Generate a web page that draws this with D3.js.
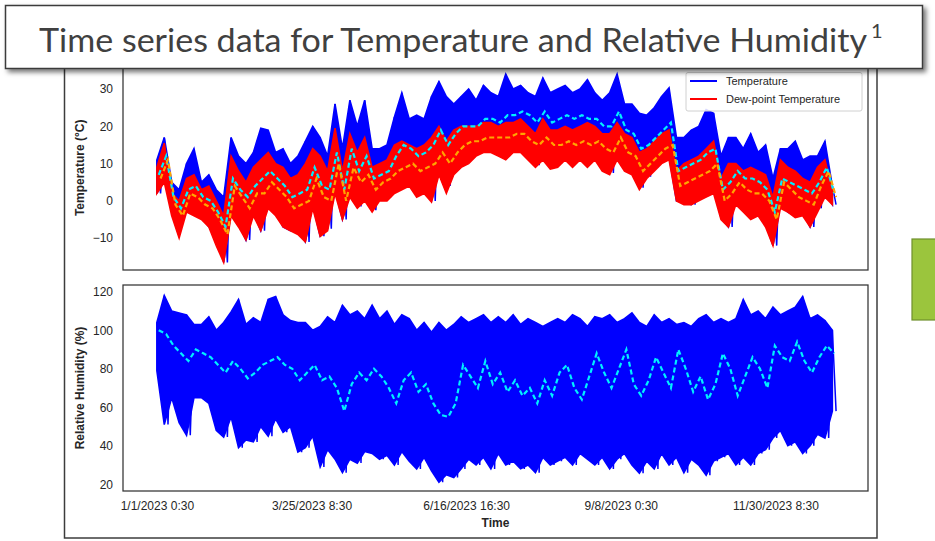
<!DOCTYPE html>
<html>
<head>
<meta charset="utf-8">
<script src="https://cdn.jsdelivr.net/npm/d3@7"></script>
<style>
  html, body { margin: 0; padding: 0; background: #fff; }
  svg { display: block; }
</style>
</head>
<body>
<svg id="chart" width="935" height="541"></svg>
<script>
// ---------------- DATA (one sample every 4 days from 1/1/2023 0:30) ----------------
const titleText = "Time series data for Temperature and Relative Humidity";
const titleSup = "1";
const seriesStart = "2023-01-01T00:30";
const seriesEnd = "2023-12-31T23:30";
const stepDays = 4;

// Temperature (°C): upper and lower swing of the hourly line, and its rolling mean
const tempMax = [11,17,5,3,10,14,5,7,3,1,17,12,10,13,19.5,19,13,14,10,12,16,20,17,12,26,14,27,20,27,14,14,15,22.5,29,22,23,22,28,32,28,26,28,30,27,31,29,28,34,30,31,29,28,33,29,30,31,29,30,32.5,29,27,29,34,26,26,23.5,23,25,28,30.3,17,17,19,20,24.5,23.5,12,17,17,14,18,13,15,6,14,14,16,11,12,12,16,4];
const tempMin = [2,6,-3,-6,-2,-2,-4,-7,-8,-16.5,-3,-6,-10.5,-3,-8,-1,-3,-7,-8,-8,-11,-1,-9.5,-7.5,3,-5,2,-1.5,2,-2.5,1,1,3,4,5,2,3,0,8,4,8,10,11,13,14,15,13,12,14,14,12,9.6,12,9,10,12,10,12,10,12,9,7.5,12,9,8,3.5,6.5,9,11,12,0,-0.5,-1,1,2,3,-4.5,-7,0,-2,-4.5,-3,-6,-12,-1,-3,-4,-3,-7,-2,2,-1];
const tempMean = [7,12,1,-2,3,4,1,0,-3,-7,6,3,1,4,6,8,6,4,1,2,3,9,4,3,13,3,14,8,12,6,7,8,12,15,14,12,13,15,19,15,18,20,20,20,22,22,21,23,23,24,23,21,24,21,22,23,22,23,22,22,20,20,24,19,18,14,15,17,19,21,8,9,10,11,13,14,3,5,8,6,6,5,3,-3,6,5,4,3,2,5,9,2];
// Dew-point temperature (°C)
const dewMax = [9,15.5,2,0,6,7,3,4,0,-4,12,8,5,9,11,13,10,9,6,7,10,14,12,8,19.5,8,18,13,17,9,10,11,15,16,15,14,15,17,20,16,19,20,20,20,21,21,20,21,21,22,20,18,22,19,19,20,19,20,21,20,18,18,21,18,17,13,14,16,18,19,8,10,11,12,14,16,6,10,10,8,9,8,7,1,11,9,8,6,5,9,11,3];
const dewMin = [2,5,-4,-10,-3,-4,-5,-7,-12,-16.5,-4,-7,-10.5,-4,-8,-2,-4,-7,-8,-9,-11,-2,-9.5,-8,2,-5,1,-2,0,-3,0,0,2,3,4,1,2,-0.3,7,2,7,9,10,12,13,13,12,11,13,13,11,9,11,8.5,9,11,9,11,9,11,8,7,11,8,7,3,6,8,10,11,0,-1,-1,0,1,2,-5,-7,-1,-3,-5,-4,-7,-12,-2,-3,-4.5,-4,-7,-3,1,-1];
const dewMean = [6,11,-1,-4,2,1,-1,-2,-5,-9,4,1,-2,2,2,5,3,1,-2,-1,0,6,1,0,10,0,9,5,7,3,5,6,8,9,10,8,9,10,13,10,13,15,16,16,17,17,17,17,18,18,16,15,17,15,15,16,15,16,15,16,14,13,17,13,12,8,10,12,14,15,4,5,6,7,8,10,0,2,5,3,2,2,0,-5,5,3,1,0,-1,4,8,1];
// Relative humidity (%)
const rhMax = [104,118,110,109,108,103,103,107,100,104,109.5,116,103,106.5,104,116,117.5,108,105,104,104,100,102,107,104,113,108,110,106,113,106,110,103,108,106,100,104,99,104,100,103,107,104,106,108,104,107,104,108,103,106,104,102,104,106,104,108,106,102,107,106,108,104,106,109,104,102,108,104,106,103,104,102,106,108,104,106,104,106,116,108,110,106,112,108,110,112,117.5,106,108,105,100];
const rhMin = [79,51,65,52,45.5,65,65,62,48,44.5,55,39,43,42,50,45,54,47,50,36.7,39,45,29,38,33,26,33,31,37,36,33,35,30,37,32,28,34,27,21,25,23.5,28,33,30,34,28,36,30,32,28,30,26,34,30,32,34,30,36,33,30,34,28,33,36,30,25.7,32,28,36,30,34,26,33,30,24.7,32,34,36,30,34,30,36,38,44,48,40,42,36,40,46,44,58];
const rhMean = [100,98,92,88,84,90,88,86,82,78,84,80,75,78,82,84,86,82,80,74,78,82,74,76,70,58,72,78,74,80,76,70,62,74,78,68,72,62,56,55,62,82,76,70,84,72,78,68,74,66,70,62,74,66,78,82,70,64,76,88,78,70,80,90,72,66,74,86,78,70,90,80,68,76,64,72,88,80,66,76,86,80,70,92,86,84,94,84,78,86,92,88];

// Axis ticks
const tempTicks = [-10, 0, 10, 20, 30];
const rhTicks = [20, 40, 60, 80, 100, 120];
const timeTicks = ["2023-01-01T00:30", "2023-03-25T08:30", "2023-06-16T16:30", "2023-09-08T00:30", "2023-11-30T08:30"];
const legendLabels = ["Temperature", "Dew-point Temperature"];
const yLabels = ["Temperature (°C)", "Relative Humidity (%)"];
const xLabel = "Time";

// ---------------- DRAWING ----------------
const svg = d3.select("#chart");
const parse = d3.timeParse("%Y-%m-%dT%H:%M");
const fmt = d3.timeFormat("%-m/%-d/%Y %-H:%M");
const t0 = parse(seriesStart), t1 = parse(seriesEnd);
const DAY = 864e5;
const margin = (t1 - t0) * 0.05;

const L = 123, R = 868;
const top1 = [65.6, 270], top2 = [285, 491];

const x = d3.scaleTime().domain([new Date(+t0 - margin), new Date(+t1 + margin)]).range([L, R]);
const yT = d3.scaleLinear().domain([-18.55, 36.3]).range([top1[1], top1[0]]);
const yH = d3.scaleLinear().domain([16.5, 123.5]).range([top2[1], top2[0]]);

const day = d => new Date(+t0 + d * DAY);

function band(hi, lo) { return hi.map((v, i) => ({ t: day(i * stepDays), hi: v, lo: lo[i] })); }
function zig(hi, lo, offHi, offLo) {
  const pts = [];
  hi.forEach((v, i) => {
    pts.push([day(i * stepDays + offHi), v]);
    pts.push([day(i * stepDays + offLo), lo[i]]);
  });
  return pts;
}
function seq(arr, off) { return arr.map((v, i) => [day(i * stepDays + off), v]); }

const defs = svg.append("defs");
defs.append("clipPath").attr("id", "c1").append("rect")
  .attr("x", L).attr("y", top1[0]).attr("width", R - L).attr("height", top1[1] - top1[0]);
defs.append("clipPath").attr("id", "c2").append("rect")
  .attr("x", L).attr("y", top2[0]).attr("width", R - L).attr("height", top2[1] - top2[0]);
const sh = defs.append("filter").attr("id", "shadow").attr("x", "-5%").attr("y", "-20%").attr("width", "110%").attr("height", "150%");
sh.append("feDropShadow").attr("dx", 3).attr("dy", 3).attr("stdDeviation", 2.5).attr("flood-color", "#000").attr("flood-opacity", 0.55);

// outer frame of the pasted figure
svg.append("rect").attr("x", 64.5).attr("y", 50).attr("width", 812.5).attr("height", 488)
  .attr("fill", "#fff").attr("stroke", "#3c3c3c").attr("stroke-width", 1.5);

// green box at right edge
svg.append("rect").attr("x", 912).attr("y", 239).attr("width", 30).attr("height", 81)
  .attr("fill", "#9bc53d").attr("stroke", "#6e8f2c").attr("stroke-width", 1.2);

const font = "'Liberation Sans', Arial, sans-serif";
const textCol = "#262626";

// ---- top panel ----
const g1 = svg.append("g");
const p1 = g1.append("g").attr("clip-path", "url(#c1)");
const lineT = d3.line().x(d => x(d[0])).y(d => yT(d[1]));
const areaT = d3.area().x(d => x(d.t)).y0(d => yT(d.lo)).y1(d => yT(d.hi));
p1.append("path").attr("d", areaT(band(tempMax, tempMin)))
  .attr("fill", "#0000ff").attr("stroke", "#0000ff").attr("stroke-width", 1.6).attr("stroke-linejoin", "miter").attr("stroke-miterlimit", 4);
p1.append("path").attr("d", lineT(zig(tempMax, tempMin, 0, 2)))
  .attr("fill", "none").attr("stroke", "#0000ff").attr("stroke-width", 1.5);
p1.append("path").attr("d", areaT(band(dewMax, dewMin)))
  .attr("fill", "#ff0000").attr("stroke", "#ff0000").attr("stroke-width", 1.6).attr("stroke-linejoin", "miter").attr("stroke-miterlimit", 4);
p1.append("path").attr("d", lineT(seq(tempMean, 1)))
  .attr("fill", "none").attr("stroke", "#00f0ff").attr("stroke-width", 2.2).attr("stroke-dasharray", "5,3");
p1.append("path").attr("d", lineT(seq(dewMean, 2)))
  .attr("fill", "none").attr("stroke", "#ffa500").attr("stroke-width", 2.2).attr("stroke-dasharray", "5,3");

g1.append("rect").attr("x", L).attr("y", top1[0]).attr("width", R - L).attr("height", top1[1] - top1[0])
  .attr("fill", "none").attr("stroke", "#333").attr("stroke-width", 1.25);

const ax1 = g1.append("g").attr("transform", `translate(${L},0)`)
  .call(d3.axisLeft(yT).tickValues(tempTicks).tickSize(0).tickPadding(10).tickFormat(d => d < 0 ? "\u2212" + Math.abs(d) : d));
ax1.select(".domain").remove();
ax1.selectAll("text").attr("font-family", font).attr("font-size", 12).attr("fill", textCol);

g1.append("text").attr("transform", `translate(84,${(top1[0] + top1[1]) / 2}) rotate(-90)`)
  .attr("text-anchor", "middle").attr("font-family", font).attr("font-size", 12).attr("font-weight", "bold")
  .attr("fill", textCol).text(yLabels[0]);

// legend
const lg = g1.append("g");
lg.append("rect").attr("x", 686).attr("y", 72.5).attr("width", 176).attr("height", 38.5).attr("rx", 2)
  .attr("fill", "#fff").attr("fill-opacity", 0.85).attr("stroke", "#d0d0d0").attr("stroke-width", 1);
[["#0000ff", 81], ["#ff0000", 99]].forEach((c, i) => {
  lg.append("line").attr("x1", 690).attr("x2", 717).attr("y1", c[1]).attr("y2", c[1])
    .attr("stroke", c[0]).attr("stroke-width", 2);
  lg.append("text").attr("x", 726).attr("y", c[1] + 4).attr("font-family", font).attr("font-size", 11)
    .attr("fill", textCol).text(legendLabels[i]);
});

// ---- bottom panel ----
const g2 = svg.append("g");
const p2 = g2.append("g").attr("clip-path", "url(#c2)");
const lineH = d3.line().x(d => x(d[0])).y(d => yH(d[1]));
const areaH = d3.area().x(d => x(d.t)).y0(d => yH(d.lo)).y1(d => yH(d.hi));
p2.append("path").attr("d", areaH(band(rhMax, rhMin)))
  .attr("fill", "#0000ff").attr("stroke", "#0000ff").attr("stroke-width", 1.6).attr("stroke-linejoin", "miter").attr("stroke-miterlimit", 4);
p2.append("path").attr("d", lineH(zig(rhMax, rhMin, 0, 2)))
  .attr("fill", "none").attr("stroke", "#0000ff").attr("stroke-width", 1.5);
p2.append("path").attr("d", lineH(seq(rhMean, 1)))
  .attr("fill", "none").attr("stroke", "#00f0ff").attr("stroke-width", 2.2).attr("stroke-dasharray", "5,3");

g2.append("rect").attr("x", L).attr("y", top2[0]).attr("width", R - L).attr("height", top2[1] - top2[0])
  .attr("fill", "none").attr("stroke", "#333").attr("stroke-width", 1.25);

const ax2 = g2.append("g").attr("transform", `translate(${L},0)`)
  .call(d3.axisLeft(yH).tickValues(rhTicks).tickSize(0).tickPadding(10));
ax2.select(".domain").remove();
ax2.selectAll("text").attr("font-family", font).attr("font-size", 12).attr("fill", textCol);

const ax3 = g2.append("g").attr("transform", `translate(0,${top2[1]})`)
  .call(d3.axisBottom(x).tickValues(timeTicks.map(parse)).tickSize(0).tickPadding(10).tickFormat(fmt));
ax3.select(".domain").remove();
ax3.selectAll("text").attr("font-family", font).attr("font-size", 12).attr("fill", textCol);

g2.append("text").attr("transform", `translate(84,${(top2[0] + top2[1]) / 2}) rotate(-90)`)
  .attr("text-anchor", "middle").attr("font-family", font).attr("font-size", 12).attr("font-weight", "bold")
  .attr("fill", textCol).text(yLabels[1]);
g2.append("text").attr("x", (L + R) / 2).attr("y", 527).attr("text-anchor", "middle")
  .attr("font-family", font).attr("font-size", 12).attr("font-weight", "bold").attr("fill", textCol).text(xLabel);

// ---- title box ----
svg.append("rect").attr("x", 5.5).attr("y", 5.5).attr("width", 917).attr("height", 63)
  .attr("fill", "#fff").attr("stroke", "#3a3a3a").attr("stroke-width", 1.5).attr("filter", "url(#shadow)");
const tt = svg.append("text").attr("x", 39).attr("y", 52).attr("font-family", "Lato, 'Open Sans', sans-serif")
  .attr("font-size", 33).attr("fill", "#404040");
tt.append("tspan").text(titleText).attr("textLength", 828).attr("lengthAdjust", "spacingAndGlyphs");
tt.append("tspan").attr("dx", 4).attr("dy", -14).attr("font-size", 20).text(titleSup);
</script>
</body>
</html>
